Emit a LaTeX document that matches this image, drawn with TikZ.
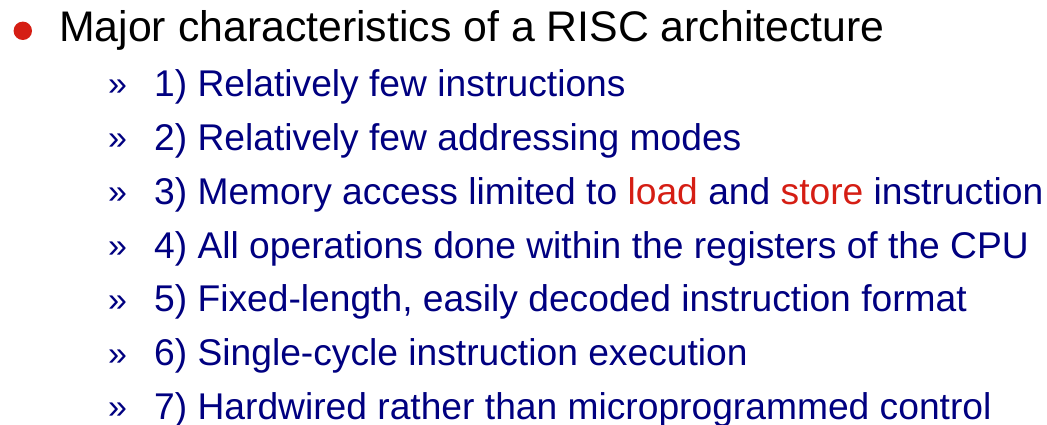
\documentclass[tikz,border=0pt]{standalone}
\usepackage{fontspec}
\setmainfont{Liberation Sans}
\definecolor{navyblue}{RGB}{0,0,128}
\definecolor{slidered}{RGB}{213,30,20}
\begin{document}
\begin{tikzpicture}[x=1pt,y=-1pt,
  head/.style={anchor=base west,inner sep=0pt,font=\fontsize{42.8}{48}\selectfont,text=black},
  item/.style={anchor=base west,inner sep=0pt,font=\fontsize{37.2}{42}\selectfont,text=navyblue},
  subbullet/.style={anchor=base west,inner sep=0pt,font=\fontsize{34}{38}\selectfont,text=navyblue}]
\useasboundingbox (0,0) rectangle (1047,425);
\fill[slidered] (22.8,30.8) circle (9.2);
\node[head] (h) at (59,42) {Major characteristics of a RISC architecture};
\foreach \i/\t [count=\k from 0] in {
  1) Relatively few instructions,
  2) Relatively few addressing modes,
  3) Memory access limited to {\color{slidered}load} and {\color{slidered}store} instruction,
  4) All operations done within the registers of the CPU,
  5) Fixed-length{,} easily decoded instruction format,
  6) Single-cycle instruction execution,
  7) Hardwired rather than microprogrammed control} {
  \node[subbullet] (m\k) at (108,{96+53.8*\k}) {»};
  \node[item] (t\k) at (154,{97+53.7*\k}) {\t};
}
\end{tikzpicture}
\end{document}
